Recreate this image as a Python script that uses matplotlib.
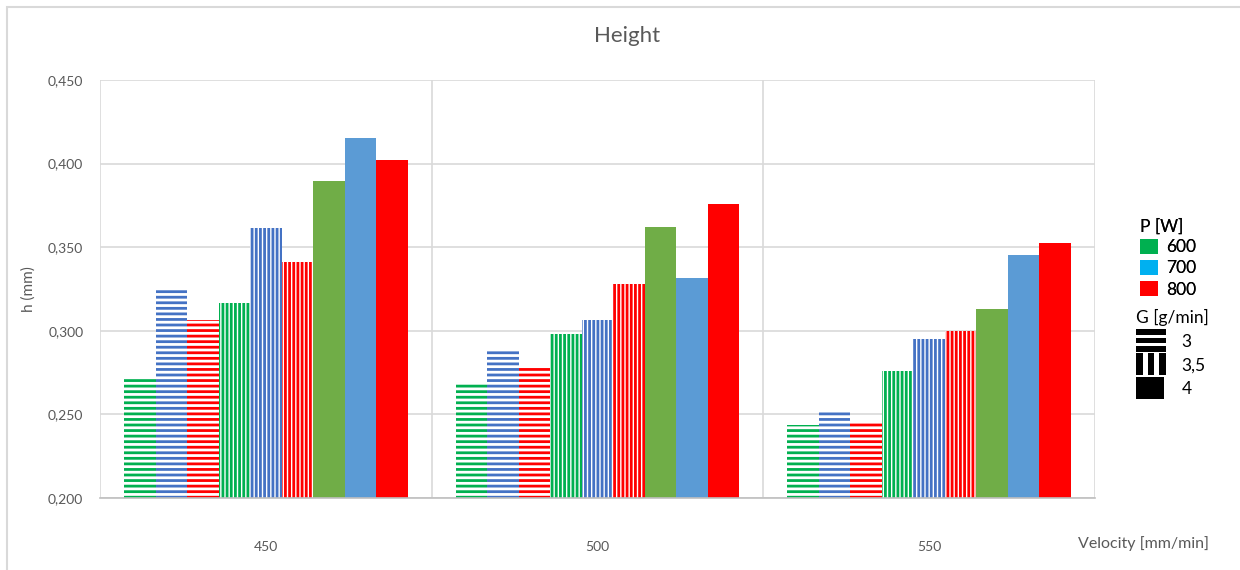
import matplotlib
matplotlib.use("Agg")
import matplotlib.pyplot as plt
from matplotlib.patches import Patch, Rectangle
from matplotlib.legend_handler import HandlerBase
import numpy as np

plt.rcParams['font.family'] = ['Lato', 'DejaVu Sans']
plt.rcParams['hatch.linewidth'] = 2.0

# Categories (velocity, mm/min)
velocities = ['450', '500', '550']

# Height h (mm) for each power / powder-feed combination
# G = 3 g/min (horizontal stripes)
h_600_g3 = [0.2725, 0.2695, 0.2438]
h_700_g3 = [0.3247, 0.2877, 0.2528]
h_800_g3 = [0.3065, 0.2779, 0.2450]
# G = 3,5 g/min (vertical stripes)
h_600_g35 = [0.3169, 0.2983, 0.2759]
h_700_g35 = [0.3613, 0.3063, 0.2953]
h_800_g35 = [0.3413, 0.3279, 0.3000]
# G = 4 g/min (solid)
h_600_g4 = [0.3894, 0.3620, 0.3129]
h_700_g4 = [0.4154, 0.3315, 0.3453]
h_800_g4 = [0.4022, 0.3757, 0.3523]

y_ticks = [0.200, 0.250, 0.300, 0.350, 0.400, 0.450]
y_tick_labels = ['0,200', '0,250', '0,300', '0,350', '0,400', '0,450']

power_labels = ['600', '700', '800']
feed_labels = ['3', '3,5', '4']

GREEN_H, BLUE_H, RED_H = '#00B050', '#4472C4', '#FF0000'
GREEN_S, BLUE_S, RED_S = '#70AD47', '#5B9BD5', '#FF0000'
TXT = '#595959'
GRID = '#D9D9D9'

series = [
    (h_600_g3, GREEN_H, '---'),
    (h_700_g3, BLUE_H, '---'),
    (h_800_g3, RED_H, '---'),
    (h_600_g35, GREEN_H, '||||'),
    (h_700_g35, BLUE_H, '||||'),
    (h_800_g35, RED_H, '||||'),
    (h_600_g4, GREEN_S, None),
    (h_700_g4, BLUE_S, None),
    (h_800_g4, RED_S, None),
]

fig = plt.figure(figsize=(12.4, 5.7), dpi=100)
ax = fig.add_axes([100 / 1240, 72 / 570, 995 / 1240, 418 / 570])

x = np.arange(len(velocities))
width = 0.095
n = len(series)
for i, (vals, color, hatch) in enumerate(series):
    pos = x + (i - (n - 1) / 2) * width
    if hatch:
        ax.bar(pos, np.array(vals) - 0.2, width, bottom=0.2, facecolor='white',
               edgecolor=color, hatch=hatch, linewidth=0, zorder=3)
    else:
        ax.bar(pos, np.array(vals) - 0.2, width, bottom=0.2, color=color,
               linewidth=0, zorder=3)

ax.set_xlim(-0.5, len(velocities) - 0.5)
ax.set_ylim(0.200, 0.450)
ax.set_yticks(y_ticks)
ax.set_yticklabels(y_tick_labels)
ax.set_xticks(x)
ax.set_xticklabels(velocities)

# category separators and horizontal gridlines
for b in np.arange(-0.5, len(velocities), 1.0):
    ax.axvline(b, color=GRID, lw=1.2, zorder=1)
ax.yaxis.grid(True, color=GRID, lw=1.2, zorder=1)
ax.set_axisbelow(True)
for s in ['top', 'left', 'right']:
    ax.spines[s].set_visible(False)
ax.spines['bottom'].set_color('#BFBFBF')
ax.spines['bottom'].set_linewidth(1.2)
ax.spines['bottom'].set_zorder(4)

ax.tick_params(axis='both', length=0, colors=TXT, labelsize=10)
ax.tick_params(axis='x', pad=31)
ax.tick_params(axis='y', pad=12)

ax.set_ylabel('h (mm)', color=TXT, fontsize=11, labelpad=9)
fig.text(1143 / 1240, 1 - 544 / 570, 'Velocity [mm/min]', color=TXT,
         fontsize=11.5, ha='center', va='center')
fig.text(627 / 1240, 1 - 36 / 570, 'Height', color=TXT, fontsize=16,
         ha='center', va='center')


class StripeHandler(HandlerBase):
    """Legend key made of three thick black stripes (or a solid block)."""

    def __init__(self, kind):
        super().__init__()
        self.kind = kind

    def create_artists(self, legend, orig_handle, xdescent, ydescent,
                       width, height, fontsize, trans):
        x0, y0 = -xdescent, -ydescent - 0.2 * height
        w, h = width, height * 1.45
        arts = []
        if self.kind == 'h':
            sh = h / 4.2
            for k in range(3):
                arts.append(Rectangle((x0, y0 + k * 1.6 * sh), w, sh,
                                      facecolor='black', edgecolor='none'))
        elif self.kind == 'v':
            sw = w / 4.4
            for k in range(3):
                arts.append(Rectangle((x0 + k * 1.7 * sw, y0), sw, h,
                                      facecolor='black', edgecolor='none'))
        else:
            arts.append(Rectangle((x0, y0), w * 0.95, h,
                                  facecolor='black', edgecolor='none'))
        for a in arts:
            a.set_transform(trans)
        return arts


# legends: power (colour) and powder feed (pattern)
p_handles = [Patch(facecolor=c, edgecolor='none') for c in [GREEN_H, '#00B0F0', RED_H]]
leg1 = fig.legend(p_handles, power_labels, title='P [W]', loc='upper left',
                  bbox_to_anchor=(1128 / 1240, 1 - 206 / 570), frameon=False,
                  fontsize=12.5, title_fontsize=12.5, alignment='left',
                  handlelength=1.0, handleheight=1.0, handletextpad=0.5,
                  labelspacing=0.25, borderpad=0.2)
fig.add_artist(leg1)

g_handles = [Patch(), Patch(), Patch()]
leg2 = fig.legend(g_handles, feed_labels, title='G [g/min]', loc='upper left',
                  bbox_to_anchor=(1124 / 1240, 1 - 297 / 570), frameon=False,
                  fontsize=12.5, title_fontsize=12.5, alignment='left',
                  handler_map={g_handles[0]: StripeHandler('h'),
                               g_handles[1]: StripeHandler('v'),
                               g_handles[2]: StripeHandler('s')},
                  handlelength=1.7, handleheight=1.0, handletextpad=0.9,
                  labelspacing=0.4, borderpad=0.2)
for t in list(leg1.get_texts()) + list(leg2.get_texts()) + [leg1.get_title(), leg2.get_title()]:
    t.set_color('black')

# chart area border
fig.add_artist(Rectangle((7 / 1240, -0.1), 1.2, 1.1 - 7 / 570, transform=fig.transFigure,
                         fill=False, edgecolor='#D9D9D9', lw=1.5))

fig.savefig('out.png', dpi=100)
